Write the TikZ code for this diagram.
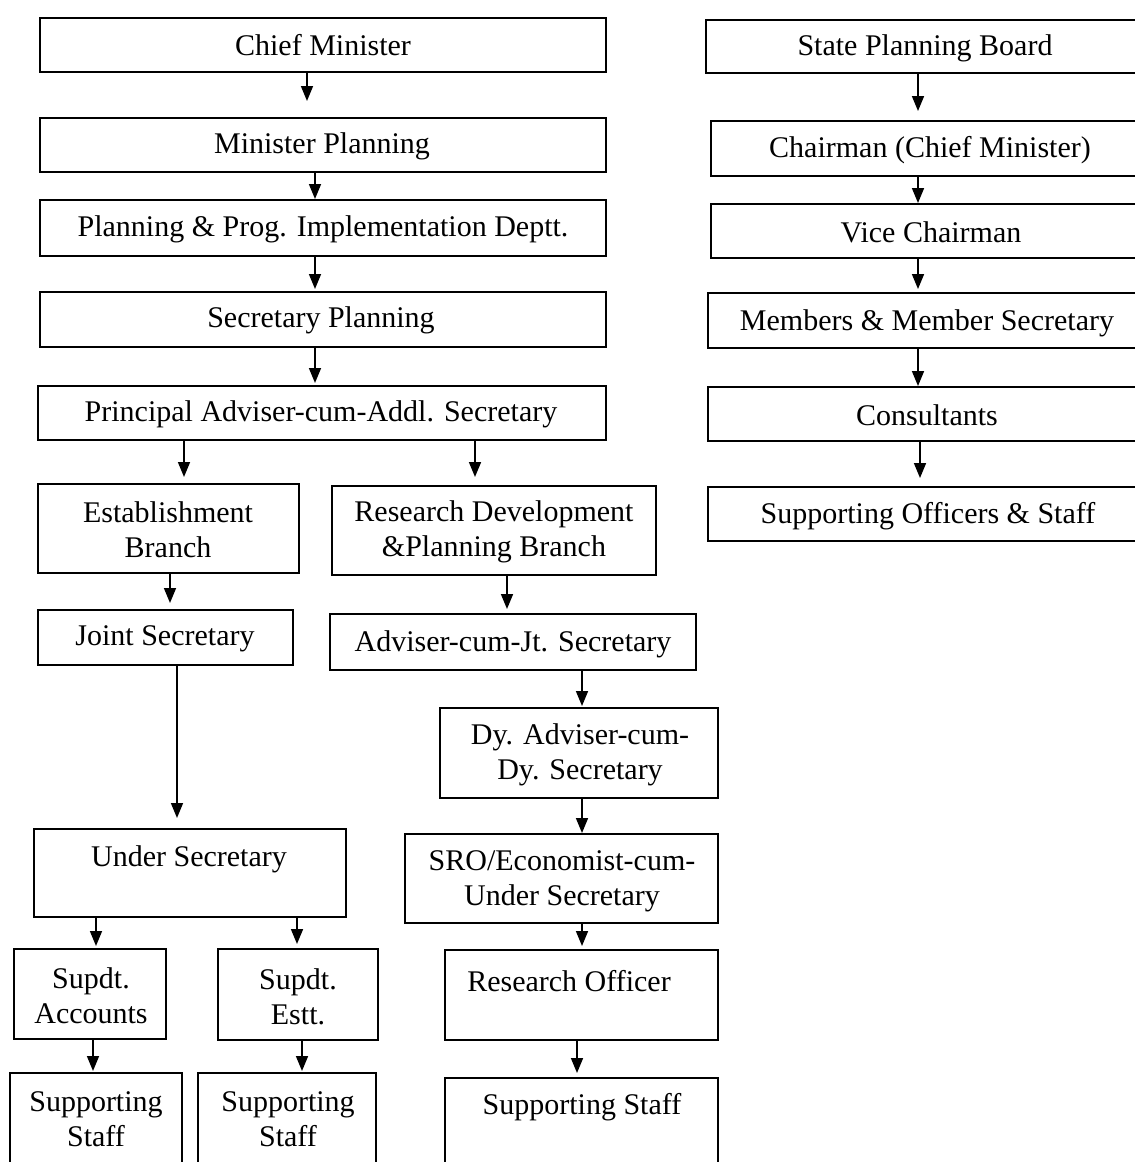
\documentclass[tikz,border=0pt]{standalone}
\usepackage{fontspec}
\setmainfont{Liberation Serif}
\usetikzlibrary{arrows.meta}
\tikzset{
  boxst/.style={draw, line width=1pt, inner sep=0pt, outer sep=0pt},
  txt/.style={font=\fontsize{15}{17.3}\selectfont, align=center, inner sep=0pt},
  arr/.style={line width=0.8pt, -{Triangle[width=6pt,length=7.5pt]}},
}
\newcommand{\mkbox}[5]{%
  \pgfmathsetmacro\bxw{(#4-#2)*0.5}%
  \pgfmathsetmacro\bxh{(#5-#3)*0.5}%
  \node[boxst, minimum width=\bxw pt, minimum height=\bxh pt] (#1) at ({(#2+#4)/2},{(#3+#5)/2}) {};}
\newcommand{\conn}[4]{%
  \coordinate (ax) at (#3,0);%
  \draw[arr, shorten >=#4pt] (#1.south -| ax) -- (#2.north -| ax);}
\begin{document}
\begin{tikzpicture}[x=0.5pt, y=-0.5pt]
\clip (0,0) rectangle (1135,1162);
\fill[white] (0,0) rectangle (1135,1162);
% left column
\mkbox{cm}{40}{18}{606}{72}
\mkbox{mp}{40}{118}{606}{172}
\mkbox{ppi}{40}{200}{606}{256}
\mkbox{sp}{40}{292}{606}{347}
\mkbox{pa}{38}{386}{606}{440}
\mkbox{eb}{38}{484}{299}{573}
\mkbox{rdp}{332}{486}{656}{575}
\mkbox{js}{38}{610}{293}{665}
\mkbox{ajs}{330}{614}{696}{670}
\mkbox{dy}{440}{708}{718}{798}
\mkbox{us}{34}{829}{346}{917}
\mkbox{sro}{405}{834}{718}{923}
\mkbox{sa}{14}{949}{166}{1039}
\mkbox{se}{218}{949}{378}{1040}
\mkbox{ro}{445}{950}{718}{1040}
\mkbox{ssa}{10}{1073}{182}{1180}
\mkbox{ssb}{198}{1073}{376}{1180}
\mkbox{ssc}{445}{1078}{718}{1180}
% right column
\mkbox{spb}{706}{20}{1150}{73}
\mkbox{ch}{711}{121}{1150}{176}
\mkbox{vc}{711}{204}{1150}{258}
\mkbox{mem}{708}{293}{1150}{348}
\mkbox{con}{708}{387}{1150}{441}
\mkbox{sos}{708}{487}{1150}{541}
% texts
\node[txt] (cm-t) at (323,45) {Chief Minister};
\node[txt] (mp-t) at (322,146) {Minister Planning};
\node[txt] (ppi-t) at (323,229) {Planning \& Prog. Implementation Deptt.};
\node[txt] (sp-t) at (321,320) {Secretary Planning};
\node[txt] (pa-t) at (321,414) {Principal Adviser-cum-Addl. Secretary};
\node[txt] (eb-t) at (168,530) {Establishment\\Branch};
\node[txt] (rdp-t) at (494,532) {Research Development\\\&Planning Branch};
\node[txt] (js-t) at (165,639) {Joint Secretary};
\node[txt] (ajs-t) at (513,644) {Adviser-cum-Jt. Secretary};
\node[txt] (dy-t) at (580,755) {Dy. Adviser-cum-\\Dy. Secretary};
\node[txt] (us-t) at (189,859) {Under Secretary};
\node[txt] (sro-t) at (562,881) {SRO/Economist-cum-\\Under Secretary};
\node[txt] (sa-t) at (91,996) {Supdt.\\Accounts};
\node[txt] (se-t) at (298,997) {Supdt.\\Estt.};
\node[txt] (ro-t) at (569,981) {Research Officer};
\node[txt] (ssa-t) at (96,1119) {Supporting\\Staff};
\node[txt] (ssb-t) at (288,1119) {Supporting\\Staff};
\node[txt] (ssc-t) at (582,1107) {Supporting Staff};
\node[txt] (spb-t) at (925,48) {State Planning Board};
\node[txt] (ch-t) at (930,150) {Chairman (Chief Minister)};
\node[txt] (vc-t) at (931,232) {Vice Chairman};
\node[txt] (mem-t) at (927,323) {Members \& Member Secretary};
\node[txt] (con-t) at (927,415) {Consultants};
\node[txt] (sos-t) at (928,516) {Supporting Officers \& Staff};
% connectors
\conn{cm}{mp}{307}{8.5}
\conn{mp}{ppi}{315}{0.5}
\conn{ppi}{sp}{315}{1.5}
\conn{sp}{pa}{315}{1.5}
\conn{pa}{eb}{184}{3.5}
\conn{pa}{rdp}{475}{4.5}
\conn{eb}{js}{170}{3.5}
\conn{rdp}{ajs}{507}{2.5}
\conn{js}{us}{177}{5.5}
\conn{ajs}{dy}{582}{1}
\conn{dy}{sro}{582}{0.5}
\conn{us}{sa}{96}{1.5}
\conn{us}{se}{297}{2.5}
\conn{sro}{ro}{582}{2}
\conn{ro}{ssc}{577}{2.5}
\conn{sa}{ssa}{93}{1}
\conn{se}{ssb}{302}{1}
\conn{spb}{ch}{918}{5}
\conn{ch}{vc}{918}{0.5}
\conn{vc}{mem}{918}{2}
\conn{mem}{con}{918}{0.5}
\conn{con}{sos}{920}{4.5}
\end{tikzpicture}
\end{document}
